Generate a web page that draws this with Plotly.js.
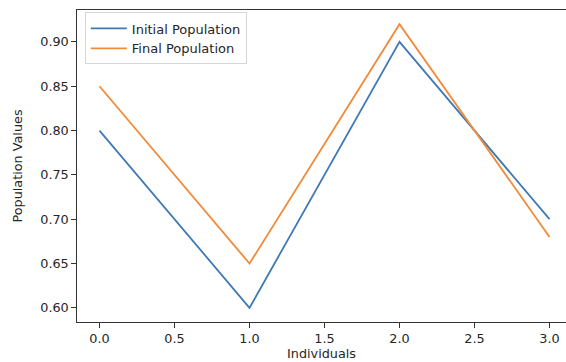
<!DOCTYPE html>
<html>
<head>
<meta charset="utf-8">
<script src="https://cdn.plot.ly/plotly-3.0.1.min.js"></script>
<style>html,body{margin:0;padding:0;background:#fff;}#chart{width:566px;height:362px;}</style>
</head>
<body>
<div id="chart"></div>
<script>
const individuals = [0, 1, 2, 3];
const initialPopulation = [0.80, 0.60, 0.90, 0.70];
const finalPopulation = [0.85, 0.65, 0.92, 0.68];
const xTicks = [0, 0.5, 1, 1.5, 2, 2.5, 3];
const xTickLabels = ['0.0', '0.5', '1.0', '1.5', '2.0', '2.5', '3.0'];
const yTicks = [0.60, 0.65, 0.70, 0.75, 0.80, 0.85, 0.90];
const yTickLabels = ['0.60', '0.65', '0.70', '0.75', '0.80', '0.85', '0.90'];

const font = {family: 'DejaVu Sans', size: 12.8, color: '#262626'};
const traces = [
  {x: individuals, y: initialPopulation, type: 'scatter', mode: 'lines', name: 'Initial Population',
   line: {color: '#3f7ab5', width: 1.8}},
  {x: individuals, y: finalPopulation, type: 'scatter', mode: 'lines', name: 'Final Population',
   line: {color: '#f28a38', width: 1.8}}
];
const layout = {
  width: 566, height: 362,
  margin: {l: 77, r: 0, t: 9.5, b: 40, pad: 0},
  paper_bgcolor: '#fff', plot_bgcolor: '#fff',
  font: font,
  showlegend: true,
  legend: {x: 0.016, y: 0.992, xanchor: 'left', yanchor: 'top', bgcolor: 'rgba(255,255,255,0.8)',
           bordercolor: '#d6d6d6', borderwidth: 1, font: {family: 'DejaVu Sans', size: 13, color: '#262626'},
           tracegroupgap: 0, itemwidth: 36},
  xaxis: {range: [-0.15, 3.11], tickvals: xTicks, ticktext: xTickLabels, showgrid: false, zeroline: false,
          showline: true, linecolor: '#333', linewidth: 1.2, mirror: true, ticks: 'outside', ticklen: 4.5,
          tickcolor: '#333', tickwidth: 1, tickfont: font,
          title: {text: 'Individuals', font: font, standoff: 4}},
  yaxis: {range: [0.584, 0.936], tickvals: yTicks, ticktext: yTickLabels, showgrid: false, zeroline: false,
          showline: true, linecolor: '#333', linewidth: 1.2, mirror: true, ticks: 'outside', ticklen: 4.5,
          tickcolor: '#333', tickwidth: 1, tickfont: font,
          title: {text: 'Population Values', font: font, standoff: 14}}
};
Plotly.newPlot('chart', traces, layout, {displayModeBar: false, staticPlot: true});
</script>
</body>
</html>
